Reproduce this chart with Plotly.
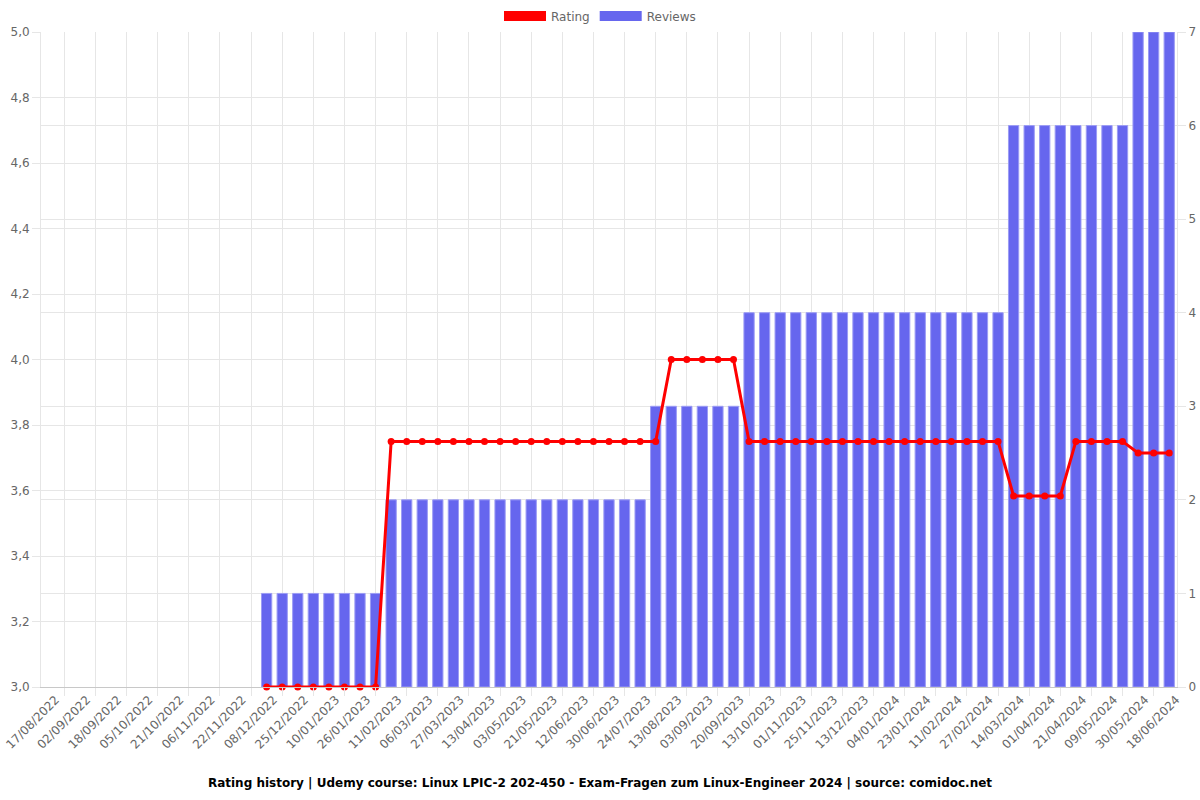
import plotly.graph_objects as go

# ---- data ----
dates = [
    "17/08/2022", "25/08/2022", "02/09/2022", "10/09/2022", "18/09/2022", "27/09/2022",
    "05/10/2022", "13/10/2022", "21/10/2022", "29/10/2022", "06/11/2022", "14/11/2022",
    "22/11/2022", "30/11/2022", "08/12/2022", "16/12/2022", "25/12/2022", "02/01/2023",
    "10/01/2023", "18/01/2023", "26/01/2023", "03/02/2023", "11/02/2023", "23/02/2023",
    "06/03/2023", "16/03/2023", "27/03/2023", "04/04/2023", "13/04/2023", "23/04/2023",
    "03/05/2023", "12/05/2023", "21/05/2023", "01/06/2023", "12/06/2023", "21/06/2023",
    "30/06/2023", "12/07/2023", "24/07/2023", "03/08/2023", "13/08/2023", "24/08/2023",
    "03/09/2023", "11/09/2023", "20/09/2023", "01/10/2023", "13/10/2023", "22/10/2023",
    "01/11/2023", "13/11/2023", "25/11/2023", "04/12/2023", "13/12/2023", "24/12/2023",
    "04/01/2024", "13/01/2024", "23/01/2024", "02/02/2024", "11/02/2024", "19/02/2024",
    "27/02/2024", "06/03/2024", "14/03/2024", "23/03/2024", "01/04/2024", "11/04/2024",
    "21/04/2024", "30/04/2024", "09/05/2024", "19/05/2024", "30/05/2024", "08/06/2024",
    "18/06/2024",
]

reviews = [
    None, None, None, None, None, None, None, None, None, None, None, None, None, None,
    1, 1, 1, 1, 1, 1, 1, 1,
    2, 2, 2, 2, 2, 2, 2, 2, 2, 2, 2, 2, 2, 2, 2, 2, 2,
    3, 3, 3, 3, 3, 3,
    4, 4, 4, 4, 4, 4, 4, 4, 4, 4, 4, 4, 4, 4, 4, 4, 4,
    6, 6, 6, 6, 6, 6, 6, 6,
    7, 7, 7,
]

rating = [
    None, None, None, None, None, None, None, None, None, None, None, None, None, None,
    3.0, 3.0, 3.0, 3.0, 3.0, 3.0, 3.0, 3.0,
    3.75, 3.75, 3.75, 3.75, 3.75, 3.75, 3.75, 3.75, 3.75, 3.75, 3.75, 3.75, 3.75, 3.75,
    3.75, 3.75, 3.75, 3.75,
    4.0, 4.0, 4.0, 4.0, 4.0,
    3.75, 3.75, 3.75, 3.75, 3.75, 3.75, 3.75, 3.75, 3.75, 3.75, 3.75, 3.75, 3.75, 3.75,
    3.75, 3.75, 3.75,
    3.5833, 3.5833, 3.5833, 3.5833,
    3.75, 3.75, 3.75, 3.75,
    3.7143, 3.7143, 3.7143,
]

rating_ticks = [3.0, 3.2, 3.4, 3.6, 3.8, 4.0, 4.2, 4.4, 4.6, 4.8, 5.0]
review_ticks = [0, 1, 2, 3, 4, 5, 6, 7]

title_text = ("Rating history | Udemy course: Linux LPIC-2 202-450 - Exam-Fragen zum "
              "Linux-Engineer 2024 | source: comidoc.net")

# ---- figure ----
xpos = list(range(len(dates)))
label_pos = xpos[::2]
label_txt = dates[::2]
minor_pos = xpos[1::2]

GRID = "#e6e6e6"
TXT = "#666666"
FONT = "DejaVu Sans"
RED = "#ff0000"
BLUE = "#6666ee"

fig = go.Figure()
fig.add_trace(go.Bar(
    x=xpos, y=reviews, name="Reviews", yaxis="y", showlegend=False,
    marker=dict(color=BLUE, line=dict(color="#9c9cf5", width=1)),
    width=0.66,
))
fig.add_trace(go.Scatter(
    x=xpos, y=rating, name="Rating", yaxis="y2", mode="lines+markers",
    showlegend=False,
    line=dict(color=RED, width=3),
    marker=dict(color=RED, size=7),
    cliponaxis=False,
))
# legend-only entries (box-style keys, no points drawn)
fig.add_trace(go.Scatter(
    x=[None], y=[None], name="Rating", yaxis="y2", mode="lines",
    line=dict(color=RED, width=14),
))
fig.add_trace(go.Scatter(
    x=[None], y=[None], name="Reviews", yaxis="y", mode="lines",
    line=dict(color=BLUE, width=14),
))

fig.update_layout(
    width=1200, height=800,
    margin=dict(l=41, r=23, t=32, b=113, autoexpand=False),
    paper_bgcolor="white", plot_bgcolor="white",
    separators=",.",
    font=dict(family=FONT, size=12, color=TXT),
    showlegend=True,
    legend=dict(
        orientation="h", x=0.5, xanchor="center", xref="container",
        y=0.98, yanchor="middle", yref="container",
        itemwidth=42,
        font=dict(family=FONT, size=12, color=TXT),
    ),
    title=dict(
        text="<b>" + title_text + "</b>",
        x=0.5, xanchor="center", xref="container",
        y=0.021, yanchor="middle", yref="container",
        font=dict(family=FONT, size=12, color="#000000"),
    ),
    xaxis=dict(
        range=[-0.5, len(dates) - 0.5],
        tickmode="array", tickvals=label_pos, ticktext=label_txt,
        tickangle=-45, ticks="", showgrid=False,
        ticklabelshift=7, ticklabeloverflow="allow",
        showline=True, linecolor="#c8c8c8", linewidth=1,
        tickfont=dict(family=FONT, size=12, color=TXT),
        minor=dict(tickmode="array", tickvals=minor_pos, ticks="outside",
                   ticklen=8, tickcolor=GRID, showgrid=True, gridcolor=GRID),
        zeroline=False,
    ),
    yaxis=dict(
        side="right", range=[0, 7],
        tickmode="array", tickvals=review_ticks,
        ticks="outside", ticklen=8, tickcolor=GRID,
        showgrid=True, gridcolor=GRID, zeroline=False,
        showline=True, linecolor=GRID,
        tickfont=dict(family=FONT, size=12, color=TXT),
    ),
    yaxis2=dict(
        side="left", overlaying="y", range=[3, 5],
        tickmode="array", tickvals=rating_ticks, tickformat=".1f",
        ticks="outside", ticklen=8, tickcolor=GRID,
        showgrid=True, gridcolor=GRID, zeroline=False,
        showline=True, linecolor=GRID,
        tickfont=dict(family=FONT, size=12, color=TXT),
    ),
)

fig.write_html("out.html")
